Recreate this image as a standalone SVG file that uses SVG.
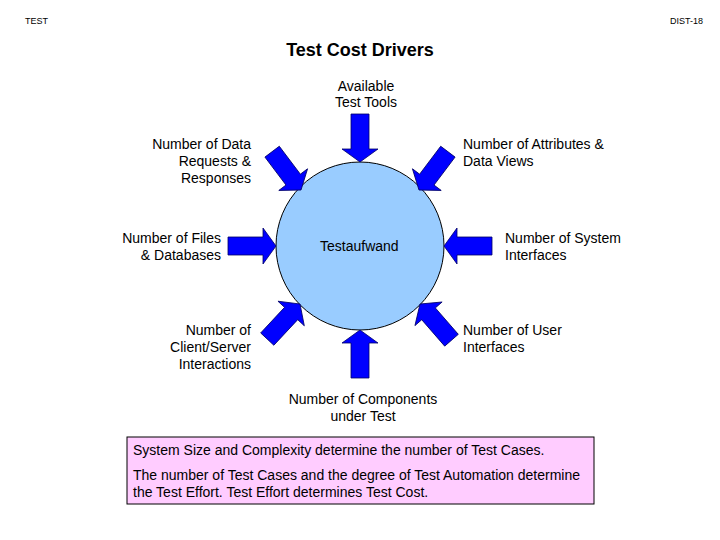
<svg xmlns="http://www.w3.org/2000/svg" width="720" height="540" viewBox="0 0 720 540">
<style>
text{font-family:"Liberation Sans",Arial,sans-serif;fill:#000;font-size:14px}
.s{font-size:9px}
.t{font-size:18px;font-weight:bold}
.m{text-anchor:middle}
.e{text-anchor:end}
.arr{fill:#0000FF;stroke:#000066;stroke-width:0.8}
</style>
<defs>
<path id="ar" d="M-48,-9 L-13,-9 L-13,-18 L0,0 L-13,18 L-13,9 L-48,9 Z"/>
</defs>
<rect width="720" height="540" fill="#fff"/>
<text class="s" x="25" y="24">TEST</text>
<text class="s e" x="703" y="24">DIST-18</text>
<text class="t m" x="360" y="56">Test Cost Drivers</text>
<g id="center">
<circle cx="360" cy="246" r="84" fill="#99CCFF" stroke="#000" stroke-width="1"/>
<text x="320" y="251">Testaufwand</text>
</g>
<g id="connectors">
<use href="#ar" class="arr" transform="translate(360,162) rotate(90)"/>
<use href="#ar" class="arr" transform="translate(360,330) rotate(-90)"/>
<use href="#ar" class="arr" transform="translate(276,246)"/>
<use href="#ar" class="arr" transform="translate(444,246) rotate(180)"/>
<use href="#ar" class="arr" transform="translate(301,190) rotate(53)"/>
<use href="#ar" class="arr" transform="translate(419,190) rotate(127)"/>
<use href="#ar" class="arr" transform="translate(300,304) rotate(-47)"/>
<use href="#ar" class="arr" transform="translate(420,304) rotate(-131)"/>
</g>
<g id="tools"><text class="m" x="366" y="91">Available</text><text class="m" x="366" y="107">Test Tools</text></g>
<g id="data"><text class="e" x="251" y="149">Number of Data</text><text class="e" x="251" y="166">Requests &amp;</text><text class="e" x="251" y="183">Responses</text></g>
<g id="attrs"><text x="463" y="149">Number of Attributes &amp;</text><text x="463" y="166">Data Views</text></g>
<g id="files"><text class="e" x="221" y="243">Number of Files</text><text class="e" x="221" y="260">&amp; Databases</text></g>
<g id="sysif"><text x="505" y="243">Number of System</text><text x="505" y="260">Interfaces</text></g>
<g id="cs"><text class="e" x="251" y="335">Number of</text><text class="e" x="251" y="352">Client/Server</text><text class="e" x="251" y="369">Interactions</text></g>
<g id="userif"><text x="463" y="335">Number of User</text><text x="463" y="352">Interfaces</text></g>
<g id="comp"><text class="m" x="363" y="404">Number of Components</text><text class="m" x="363" y="421">under Test</text></g>
<g id="note">
<rect x="127" y="437" width="467" height="67" fill="#FFCCFF" stroke="#000" stroke-width="1"/>
<text x="133" y="455">System Size and Complexity determine the number of Test Cases.</text>
<text x="133" y="480">The number of Test Cases and the degree of Test Automation determine</text>
<text x="133" y="497">the Test Effort. Test Effort determines Test Cost.</text>
</g>
</svg>
